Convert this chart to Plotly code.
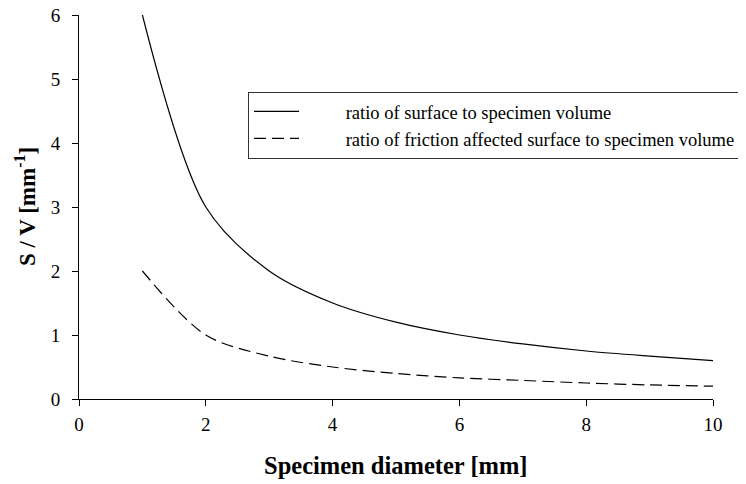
import plotly.graph_objects as go

diameter = [1, 2, 3, 4, 5, 6, 7, 8, 9, 10]
ratio_surface = [6.0, 3.0, 2.0, 1.5, 1.2, 1.0, 0.86, 0.75, 0.67, 0.6]
ratio_friction = [2.0, 1.0, 0.67, 0.5, 0.4, 0.33, 0.29, 0.25, 0.22, 0.2]
x_ticks = [0, 2, 4, 6, 8, 10]
y_ticks = [0, 1, 2, 3, 4, 5, 6]

FONT = "Liberation Serif"
PAD = "\u00a0" * 9

fig = go.Figure()
fig.add_trace(go.Scatter(x=diameter, y=ratio_surface, mode="lines",
                         name=PAD + "ratio of surface to specimen volume",
                         line=dict(color="black", width=1.2, shape="spline", smoothing=0.9)))
fig.add_trace(go.Scatter(x=diameter, y=ratio_friction, mode="lines",
                         name=PAD + "ratio of friction affected surface to specimen volume",
                         line=dict(color="black", width=1.2, dash="12px,6px", shape="spline", smoothing=0.9)))

fig.update_layout(
    width=746, height=484,
    margin=dict(l=71, r=41, t=7, b=93),
    font=dict(family=FONT, size=19, color="black"),
    plot_bgcolor="white", paper_bgcolor="white",
    showlegend=True,
    legend=dict(x=0.2666, y=0.80, xanchor="left", yanchor="top",
                bordercolor="#333333", borderwidth=1, bgcolor="white",
                font=dict(family=FONT, size=18.5, color="black"),
                itemwidth=45),
)
fig.update_xaxes(range=[0, 10], tickvals=x_ticks, showgrid=False, zeroline=False,
                 showline=True, linecolor="black", linewidth=1,
                 ticks="outside", ticklen=6, tickcolor="black",
                 tickfont=dict(family=FONT, size=19, color="black"),
                 ticklabelstandoff=2, ticklabeloverflow="allow", automargin=False)
fig.update_yaxes(range=[0, 6], tickvals=y_ticks, showgrid=False, zeroline=False,
                 showline=True, linecolor="black", linewidth=1,
                 ticks="outside", ticklen=6, tickcolor="black",
                 tickfont=dict(family=FONT, size=19, color="black"),
                 ticklabelstandoff=8, ticklabeloverflow="allow", automargin=False)

fig.add_annotation(text="<b>Specimen diameter [mm]</b>", xref="paper", yref="paper",
                   x=0.5, y=0, xanchor="center", yanchor="middle", yshift=-66,
                   showarrow=False, font=dict(family=FONT, size=24.5, color="black"))
fig.add_annotation(text="<b>S / V [mm<sup>-1</sup>]</b>", xref="paper", yref="paper",
                   x=0, y=0.5, xanchor="center", yanchor="middle", xshift=-54,
                   textangle=-90, showarrow=False,
                   font=dict(family=FONT, size=23, color="black"))

fig.write_html("out.html")
